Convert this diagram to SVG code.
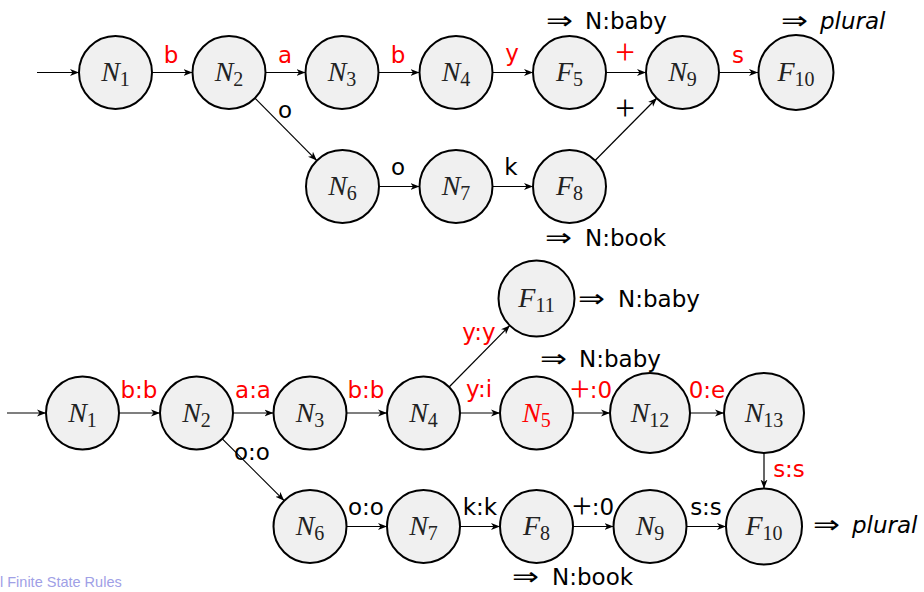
<svg xmlns="http://www.w3.org/2000/svg" width="924" height="592" viewBox="0 0 924 592">
<defs>
<marker id="ah" markerUnits="userSpaceOnUse" markerWidth="10" markerHeight="8" refX="9" refY="4" orient="auto">
<path d="M0,0.5 L9,4 L0,7.5 L2.5,4 Z" fill="#000"/>
</marker>
<style>
.n circle{fill:#f0f0f0;stroke:#000;stroke-width:2}
.m{font-family:"Liberation Serif","DejaVu Serif",serif;font-size:28px;text-anchor:middle;fill:#222}
.m .v{font-style:italic}
.m .s{font-size:20px}
.red{fill:#ff0000}
.e line{stroke:#000;stroke-width:1.2;marker-end:url(#ah)}
.l{font-family:"DejaVu Sans","Liberation Sans",sans-serif;font-size:23px;text-anchor:middle;fill:#000}
.l.r{fill:#ff0000}
.l.p,.l .p{font-family:"Liberation Serif","DejaVu Serif",serif;font-size:35px}
.a{font-family:"DejaVu Sans","Liberation Sans",sans-serif;font-size:23px;fill:#000}
.ar{font-family:"DejaVu Sans",sans-serif;font-size:25px;fill:#000}
.ft{font-family:"Liberation Sans",sans-serif;font-size:14.5px;fill:#a0a0e6}
</style>
</defs>
<rect width="924" height="592" fill="#fff"/>

<!-- connectors -->
<g id="connectors" class="e">
<line x1="37" y1="72.5" x2="79" y2="72.5"/>
<line x1="152" y1="72.5" x2="192.5" y2="72.5"/>
<line x1="265.5" y1="72.5" x2="305.5" y2="72.5"/>
<line x1="378.5" y1="72.5" x2="419.5" y2="72.5"/>
<line x1="492.5" y1="72.5" x2="533" y2="72.5"/>
<line x1="606" y1="72.5" x2="646" y2="72.5"/>
<line x1="719" y1="72.5" x2="758" y2="72.5"/>
<line x1="254.7" y1="97.9" x2="316.8" y2="160.6"/>
<line x1="379" y1="186.5" x2="419.5" y2="186.5"/>
<line x1="492.5" y1="186.5" x2="533" y2="186.5"/>
<line x1="595.1" y1="160.5" x2="656.9" y2="98"/>

<line x1="7" y1="413" x2="46" y2="413"/>
<line x1="119" y1="413" x2="160" y2="413"/>
<line x1="233" y1="413" x2="273.5" y2="413"/>
<line x1="346.5" y1="413" x2="387" y2="413"/>
<line x1="460" y1="413" x2="500" y2="413"/>
<line x1="573" y1="413" x2="610" y2="413"/>
<line x1="690" y1="413" x2="724" y2="413"/>
<line x1="449.1" y1="387" x2="509.8" y2="325.4"/>
<line x1="222.3" y1="438.8" x2="284.2" y2="500.7"/>
<line x1="764" y1="453" x2="764" y2="488.5"/>
<line x1="346.5" y1="526.5" x2="387" y2="526.5"/>
<line x1="460" y1="526.5" x2="500" y2="526.5"/>
<line x1="573" y1="526.5" x2="613.5" y2="526.5"/>
<line x1="686.5" y1="526.5" x2="726" y2="526.5"/>
</g>

<!-- edge labels -->
<g id="edge-labels">
<text class="l r" x="171" y="63">b</text>
<text class="l r" x="285" y="63">a</text>
<text class="l r" x="398" y="63">b</text>
<text class="l r" x="512" y="61">y</text>
<text class="l r p" x="625" y="64">+</text>
<text class="l r" x="738" y="63">s</text>
<text class="l" x="285" y="118">o</text>
<text class="l p" x="625" y="120">+</text>
<text class="l" x="398" y="175">o</text>
<text class="l" x="511" y="175">k</text>

<text class="l r" x="139" y="398">b:b</text>
<text class="l r" x="253" y="398">a:a</text>
<text class="l r" x="366" y="398">b:b</text>
<text class="l r" x="479" y="397">y:i</text>
<text class="l r" x="591" y="398"><tspan class="p" dy="3">+</tspan><tspan dy="-3">:0</tspan></text>
<text class="l r" x="707" y="398">0:e</text>
<text class="l r" x="479" y="340">y:y</text>
<text class="l" x="252" y="460">o:o</text>
<text class="l" x="366" y="515">o:o</text>
<text class="l" x="480" y="515">k:k</text>
<text class="l" x="593" y="515"><tspan class="p" dy="3">+</tspan><tspan dy="-3">:0</tspan></text>
<text class="l" x="706" y="515">s:s</text>
<text class="l r" x="789" y="477">s:s</text>
</g>

<!-- annotations -->
<g id="annotations">
<text class="ar" x="546" y="29" textLength="27" lengthAdjust="spacingAndGlyphs">⇒</text><text class="a" x="585" y="29">N:baby</text>
<text class="ar" x="781" y="29" textLength="27" lengthAdjust="spacingAndGlyphs">⇒</text><text class="a" x="820" y="29" font-style="italic">plural</text>
<text class="ar" x="545" y="246" textLength="27" lengthAdjust="spacingAndGlyphs">⇒</text><text class="a" x="585" y="246">N:book</text>
<text class="ar" x="578" y="307" textLength="27" lengthAdjust="spacingAndGlyphs">⇒</text><text class="a" x="618" y="307">N:baby</text>
<text class="ar" x="540" y="367" textLength="27" lengthAdjust="spacingAndGlyphs">⇒</text><text class="a" x="579" y="367">N:baby</text>
<text class="ar" x="813" y="533" textLength="27" lengthAdjust="spacingAndGlyphs">⇒</text><text class="a" x="852" y="533" font-style="italic">plural</text>
<text class="ar" x="512" y="585" textLength="27" lengthAdjust="spacingAndGlyphs">⇒</text><text class="a" x="552" y="585">N:book</text>
</g>

<!-- top automaton nodes -->
<g id="t_N1" class="n"><circle cx="115.5" cy="72.5" r="36.5"/><text class="m" x="115.5" y="81"><tspan class="v">N</tspan><tspan class="s" dy="5">1</tspan></text></g>
<g id="t_N2" class="n"><circle cx="229" cy="72.5" r="36.5"/><text class="m" x="229" y="81"><tspan class="v">N</tspan><tspan class="s" dy="5">2</tspan></text></g>
<g id="t_N3" class="n"><circle cx="342" cy="72.5" r="36.5"/><text class="m" x="342" y="81"><tspan class="v">N</tspan><tspan class="s" dy="5">3</tspan></text></g>
<g id="t_N4" class="n"><circle cx="456" cy="72.5" r="36.5"/><text class="m" x="456" y="81"><tspan class="v">N</tspan><tspan class="s" dy="5">4</tspan></text></g>
<g id="t_F5" class="n"><circle cx="569.5" cy="72.5" r="36.5"/><text class="m" x="569.5" y="81"><tspan class="v">F</tspan><tspan class="s" dy="5">5</tspan></text></g>
<g id="t_N9" class="n"><circle cx="682.5" cy="72.5" r="36.5"/><text class="m" x="682.5" y="81"><tspan class="v">N</tspan><tspan class="s" dy="5">9</tspan></text></g>
<g id="t_F10" class="n"><circle cx="796" cy="72.5" r="37.5"/><text class="m" x="796" y="81"><tspan class="v">F</tspan><tspan class="s" dy="5">10</tspan></text></g>
<g id="t_N6" class="n"><circle cx="342.5" cy="186.5" r="36.5"/><text class="m" x="342.5" y="195"><tspan class="v">N</tspan><tspan class="s" dy="5">6</tspan></text></g>
<g id="t_N7" class="n"><circle cx="456" cy="186.5" r="36.5"/><text class="m" x="456" y="195"><tspan class="v">N</tspan><tspan class="s" dy="5">7</tspan></text></g>
<g id="t_F8" class="n"><circle cx="569.5" cy="186.5" r="36.5"/><text class="m" x="569.5" y="195"><tspan class="v">F</tspan><tspan class="s" dy="5">8</tspan></text></g>

<!-- bottom transducer nodes -->
<g id="b_N1" class="n"><circle cx="82.5" cy="413" r="36.5"/><text class="m" x="82.5" y="421.5"><tspan class="v">N</tspan><tspan class="s" dy="5">1</tspan></text></g>
<g id="b_N2" class="n"><circle cx="196.5" cy="413" r="36.5"/><text class="m" x="196.5" y="421.5"><tspan class="v">N</tspan><tspan class="s" dy="5">2</tspan></text></g>
<g id="b_N3" class="n"><circle cx="310" cy="413" r="36.5"/><text class="m" x="310" y="421.5"><tspan class="v">N</tspan><tspan class="s" dy="5">3</tspan></text></g>
<g id="b_N4" class="n"><circle cx="423.5" cy="413" r="36.5"/><text class="m" x="423.5" y="421.5"><tspan class="v">N</tspan><tspan class="s" dy="5">4</tspan></text></g>
<g id="b_N5" class="n"><circle cx="536.5" cy="413" r="36.5"/><text class="m red" x="536.5" y="421.5"><tspan class="v">N</tspan><tspan class="s" dy="5">5</tspan></text></g>
<g id="b_N12" class="n"><circle cx="650" cy="413" r="40"/><text class="m" x="650" y="421.5"><tspan class="v">N</tspan><tspan class="s" dy="5">12</tspan></text></g>
<g id="b_N13" class="n"><circle cx="764" cy="413" r="40"/><text class="m" x="764" y="421.5"><tspan class="v">N</tspan><tspan class="s" dy="5">13</tspan></text></g>
<g id="b_F11" class="n"><circle cx="536.5" cy="298.5" r="38"/><text class="m" x="536.5" y="307"><tspan class="v">F</tspan><tspan class="s" dy="5">11</tspan></text></g>
<g id="b_N6" class="n"><circle cx="310" cy="526.5" r="36.5"/><text class="m" x="310" y="535"><tspan class="v">N</tspan><tspan class="s" dy="5">6</tspan></text></g>
<g id="b_N7" class="n"><circle cx="423.5" cy="526.5" r="36.5"/><text class="m" x="423.5" y="535"><tspan class="v">N</tspan><tspan class="s" dy="5">7</tspan></text></g>
<g id="b_F8" class="n"><circle cx="536.5" cy="526.5" r="36.5"/><text class="m" x="536.5" y="535"><tspan class="v">F</tspan><tspan class="s" dy="5">8</tspan></text></g>
<g id="b_N9" class="n"><circle cx="650" cy="526.5" r="36.5"/><text class="m" x="650" y="535"><tspan class="v">N</tspan><tspan class="s" dy="5">9</tspan></text></g>
<g id="b_F10" class="n"><circle cx="764" cy="526.5" r="38"/><text class="m" x="764" y="535"><tspan class="v">F</tspan><tspan class="s" dy="5">10</tspan></text></g>

<text class="ft" x="0" y="587">l Finite State Rules</text>
</svg>
